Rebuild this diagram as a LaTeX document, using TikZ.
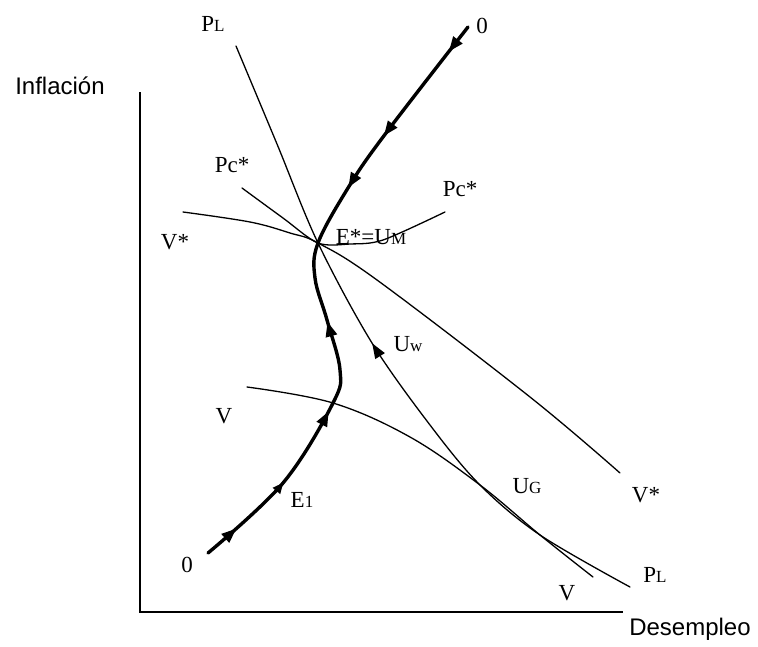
\documentclass[tikz,border=0pt]{standalone}
\usepackage{fontspec}
\setmainfont{Liberation Serif}
\newfontfamily\axisfont{Liberation Sans}
\usetikzlibrary{arrows.meta,decorations.markings}
\newcommand{\subsm}[1]{{\fontsize{17}{18}\selectfont #1}}
\begin{document}
\begin{tikzpicture}[x=1pt,y=-1pt,
  thincurve/.style={line width=1.3pt, line cap=round},
  thickcurve/.style={line width=3.4pt, line cap=round},
  axisline/.style={line width=1.6pt},
  lbl/.style={font=\fontsize{23}{25}\selectfont, inner sep=0pt},
  axlbl/.style={font=\axisfont\fontsize{24}{26}\selectfont, inner sep=0pt},
  tri/.tip={Triangle[length=15pt,width=11pt]},
  trismall/.tip={Triangle[length=11pt,width=9pt]}]
\useasboundingbox (0,0) rectangle (758,646);

% axes
\coordinate (O) at (140,612);
\coordinate (Ytop) at (140,92);
\coordinate (Xend) at (623,612);
\draw[axisline] (Ytop) -- (O) -- (Xend);

\coordinate (E) at (318,243);

% P_L curve
\draw[thincurve, postaction={decorate}, decoration={markings,
  mark=at position 0.476 with {\arrowreversed{tri}}}]
  plot[smooth, tension=0.55] coordinates {(236,46) (277,144) (318,243) (372,343) (430,425) (480,485) (540,535) (630,587)};

% V* curve
\draw[thincurve] plot[smooth, tension=0.6] coordinates {(183,212) (250,222) (290,233) (318,243) (377,280) (530,397) (620,473)};

% Pc* curve
\draw[thincurve] plot[smooth, tension=0.5] coordinates {(242,188) (283,218) (318,243) (350,244) (383,240) (445,212)};

% V curve
\draw[thincurve] plot[smooth, tension=0.6] coordinates {(247,387) (333,403) (410,437) (480,485) (540,535) (593,577)};

% thick adjustment path
\draw[thickcurve, postaction={decorate}, decoration={markings,
  mark=at position 0.06 with {\arrow{tri}},
  mark=at position 0.165 with {\arrow{trismall}},
  mark=at position 0.30 with {\arrow{tri}},
  mark=at position 0.45 with {\arrow{tri}},
  mark=at position 0.68 with {\arrowreversed{tri}},
  mark=at position 0.78 with {\arrowreversed{tri}},
  mark=at position 0.95 with {\arrowreversed{tri}}}]
  plot[smooth, tension=0.6] coordinates {(208,553) (283,483) (333,403) (340,370) (327,320) (315,278) (318,243) (348,188) (383,137) (468,27)};

% labels
\node[lbl] (PLtop) at (213,24) {P\subsm{L}};
\node[lbl] (Ztop) at (482,26) {0};
\node[lbl] (PcL) at (232,165) {Pc*};
\node[lbl] (PcR) at (460,189) {Pc*};
\node[lbl] (VsL) at (175,242) {V*};
\node[lbl] (Eq) at (371,237) {E*=U\subsm{M}};
\node[lbl] (Uw) at (408,344) {U\subsm{w}};
\node[lbl] (VL) at (224,416) {V};
\node[lbl] (E1) at (302,500) {E\subsm{1}};
\node[lbl] (Zbot) at (187,565) {0};
\node[lbl] (UG) at (527,486) {U\subsm{G}};
\node[lbl] (VsR) at (646,495) {V*};
\node[lbl] (PLr) at (655,575) {P\subsm{L}};
\node[lbl] (Vb) at (567,593) {V};
\node[axlbl] (Xlab) at (690,629) {Desempleo};
\node[axlbl] (Ylab) at (60,86) {Inflación};
\end{tikzpicture}
\end{document}
